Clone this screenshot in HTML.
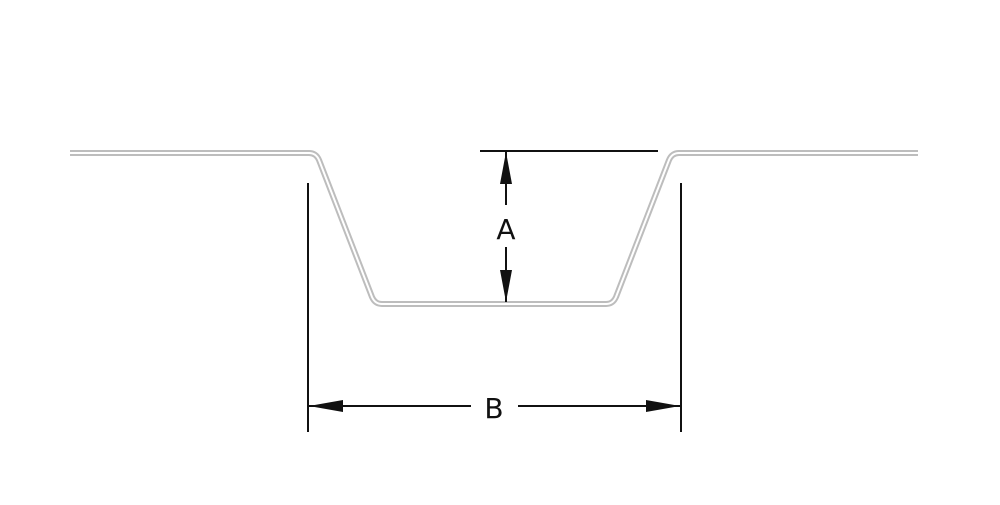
<!DOCTYPE html>
<html><head><style>html,body{margin:0;padding:0;background:#fff}</style></head>
<body>
<svg width="1000" height="500" viewBox="0 0 1000 500" xmlns="http://www.w3.org/2000/svg">
<g fill="none" stroke-linejoin="round">
<path d="M70,153 L309,153 Q316,153 319,160 L372,297 Q375,304 382,304 L606,304 Q613,304 616,297 L669,160 Q672,153 679,153 L918,153" stroke="#bdbdbd" stroke-width="6"/>
<path d="M70,153 L309,153 Q316,153 319,160 L372,297 Q375,304 382,304 L606,304 Q613,304 616,297 L669,160 Q672,153 679,153 L918,153" stroke="#fff" stroke-width="2"/>
</g>
<g stroke="#111" stroke-width="2">
<line x1="480" y1="151" x2="658" y2="151"/>
<line x1="506" y1="152" x2="506" y2="205"/>
<line x1="506" y1="247" x2="506" y2="302"/>
<line x1="308" y1="183" x2="308" y2="432"/>
<line x1="681" y1="183" x2="681" y2="432"/>
<line x1="309" y1="406" x2="471" y2="406"/>
<line x1="518" y1="406" x2="680" y2="406"/>
</g>
<g fill="#111">
<polygon points="506,152 500,184 512,184"/>
<polygon points="506,302 500,270 512,270"/>
<polygon points="309,406 343,400 343,412"/>
<polygon points="680,406 646,400 646,412"/>
</g>
<text x="506" y="239" font-family="DejaVu Sans, Liberation Sans, sans-serif" font-size="28" text-anchor="middle" fill="#111">A</text>
<text x="494" y="418" font-family="DejaVu Sans, Liberation Sans, sans-serif" font-size="28" text-anchor="middle" fill="#111">B</text>
</svg>
</body></html>
